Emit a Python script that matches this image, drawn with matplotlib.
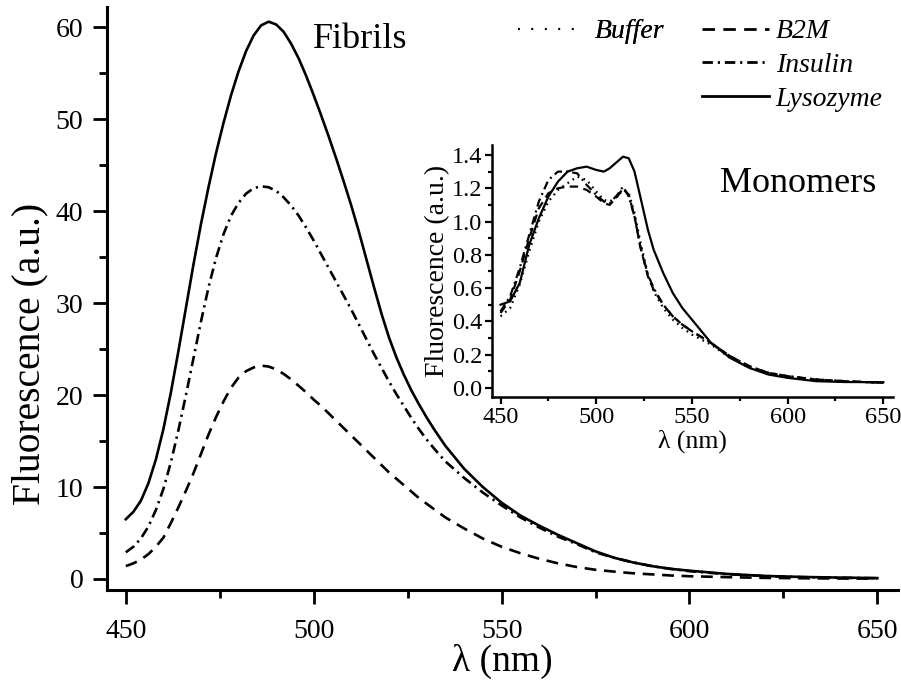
import matplotlib
matplotlib.use("Agg")
import matplotlib.pyplot as plt
from matplotlib.ticker import MultipleLocator, FormatStrFormatter
from matplotlib.lines import Line2D

plt.rcParams['font.family'] = ['Liberation Serif', 'DejaVu Serif']
plt.rcParams['lines.scale_dashes'] = False

# ---------------- Main panel (Fibrils) ----------------
wl_main = [450, 452, 454, 456, 458, 460, 462, 464, 466, 468,
           470, 472, 474, 476, 478, 480, 482, 484, 486, 488,
           490, 492, 494, 496, 498, 500, 502, 504, 506, 508,
           510, 512, 514, 516, 518, 520, 522, 524, 526, 528,
           530, 532,
           535, 540, 545, 550, 555, 560, 565, 570, 575, 580, 585, 590, 595, 600,
           610, 620, 630, 640, 650]
lysozyme_fib = [6.5, 7.3, 8.5, 10.4, 13.0, 16.3, 20.3, 24.8, 29.5, 34.2,
                38.6, 42.6, 46.3, 49.6, 52.6, 55.2, 57.4, 59.1, 60.2, 60.6,
                60.3, 59.5, 58.2, 56.6, 54.7, 52.6, 50.4, 48.1, 45.7, 43.2,
                40.6, 37.8, 34.8, 31.8, 28.9, 26.3, 24.1, 22.2, 20.5, 19.0,
                17.6, 16.3,
                14.5, 12.0, 10.0, 8.3, 6.9, 5.8, 4.8, 3.9, 3.0, 2.3, 1.8, 1.4, 1.1, 0.9,
                0.55, 0.33, 0.22, 0.15, 0.1]
insulin_fib = [2.9, 3.5, 4.4, 5.7, 7.5, 9.8, 12.7, 16.2, 20.0, 24.0,
               28.0, 31.7, 34.9, 37.5, 39.5, 40.9, 41.9, 42.5, 42.7, 42.6,
               42.2, 41.5, 40.6, 39.5, 38.2, 36.8, 35.3, 33.8, 32.3, 30.8,
               29.3, 27.7, 26.1, 24.5, 23.0, 21.5, 20.1, 18.8, 17.5, 16.3,
               15.2, 14.2,
               12.8, 11.0, 9.4, 8.0, 6.7, 5.6, 4.6, 3.8, 2.9, 2.3, 1.8, 1.4, 1.1, 0.85,
               0.52, 0.32, 0.2, 0.13, 0.08]
b2m_fib = [1.4, 1.7, 2.1, 2.7, 3.5, 4.5, 6.1, 7.8, 9.6, 11.5,
           13.6, 15.7, 17.6, 19.3, 20.8, 21.9, 22.6, 23.0, 23.2, 23.1,
           22.8, 22.3, 21.7, 21.0, 20.3, 19.5, 18.8, 18.0, 17.2, 16.4,
           15.6, 14.8, 14.0, 13.2, 12.4, 11.6, 10.9, 10.2, 9.5, 8.8,
           8.2, 7.6,
           6.7, 5.5, 4.4, 3.5, 2.8, 2.2, 1.7, 1.3, 1.0, 0.8, 0.62, 0.5, 0.38, 0.3,
           0.2, 0.12, 0.08, 0.05, 0.04]

# ---------------- Inset (Monomers) ----------------
wl_ins = [450, 455, 460, 465, 470, 475, 480, 485, 490, 495, 500, 504, 507, 511, 514, 517,
          520, 523, 527, 530, 535, 540, 545, 550, 560, 570, 580, 590, 600, 615, 630, 650]
lysozyme_mon = [0.50, 0.52, 0.63, 0.86, 1.02, 1.15, 1.24, 1.30, 1.32, 1.33, 1.31, 1.30, 1.32, 1.36, 1.39, 1.38,
                1.30, 1.15, 0.95, 0.83, 0.69, 0.57, 0.48, 0.41, 0.27, 0.18, 0.12, 0.08, 0.06, 0.04, 0.035, 0.034]
insulin_mon = [0.46, 0.55, 0.72, 0.92, 1.12, 1.25, 1.30, 1.30, 1.29, 1.22, 1.16, 1.12, 1.11, 1.16, 1.21, 1.15,
               1.03, 0.85, 0.68, 0.60, 0.50, 0.43, 0.38, 0.34, 0.27, 0.19, 0.13, 0.09, 0.07, 0.05, 0.04, 0.03]
b2m_mon = [0.45, 0.53, 0.70, 0.90, 1.08, 1.17, 1.20, 1.21, 1.21, 1.19, 1.15, 1.11, 1.10, 1.15, 1.20, 1.16,
           1.03, 0.85, 0.67, 0.59, 0.50, 0.43, 0.38, 0.34, 0.27, 0.19, 0.13, 0.09, 0.07, 0.05, 0.04, 0.03]
buffer_mon = [0.43, 0.48, 0.62, 0.82, 1.00, 1.12, 1.19, 1.23, 1.27, 1.25, 1.18, 1.13, 1.12, 1.15, 1.19, 1.17,
              1.05, 0.88, 0.68, 0.58, 0.48, 0.41, 0.36, 0.32, 0.26, 0.18, 0.12, 0.09, 0.07, 0.05, 0.04, 0.03]

labels = ['Buffer', 'B2M', 'Insulin', 'Lysozyme']

DOT = (0, (1.2, 3.2))
DASH = (0, (8.5, 5.5))
DASHDOT = (0, (7.5, 3.5, 1.6, 3.5))
SOLID = '-'

fig = plt.figure(figsize=(9.01, 6.84), dpi=100)
ax = fig.add_axes([0.1188, 0.1374, 0.8779, 0.8524])

lw_main = 1.9
ax.plot(wl_main, b2m_fib, color='black', lw=lw_main, linestyle=DASH)
ax.plot(wl_main, insulin_fib, color='black', lw=lw_main, linestyle=DASHDOT)
ax.plot(wl_main, lysozyme_fib, color='black', lw=lw_main, linestyle=SOLID)

ax.set_xlim(445, 655.5)
ax.set_ylim(-1.2, 62.2)
for s in ['top', 'right']:
    ax.spines[s].set_visible(False)
for s in ['left', 'bottom']:
    ax.spines[s].set_linewidth(2.2)
ax.xaxis.set_major_locator(MultipleLocator(50))
ax.xaxis.set_minor_locator(MultipleLocator(25))
ax.yaxis.set_major_locator(MultipleLocator(10))
ax.yaxis.set_minor_locator(MultipleLocator(5))
ax.tick_params(which='major', direction='out', length=10, width=2.0, labelsize=20)
ax.tick_params(axis='x', which='major', pad=11)
ax.tick_params(axis='y', which='major', pad=7)
ax.tick_params(which='minor', direction='out', length=5.5, width=2.0)
ax.set_xlabel('λ (nm)', fontsize=27, labelpad=0)
ax.set_ylabel('Fluorescence (a.u.)', fontsize=28.5)
ax.yaxis.set_label_coords(-0.0745, 0.405)
fig.text(313 / 901, 1 - 48 / 684, 'Fibrils', fontsize=26, va='baseline', ha='left')

# legend
h_buf = Line2D([], [], color='black', lw=1.5, linestyle=(0, (1.2, 8.5)))
h_b2m = Line2D([], [], color='black', lw=2.0, linestyle=(0, (9, 6)))
h_ins = Line2D([], [], color='black', lw=2.0, linestyle=DASHDOT)
h_lys = Line2D([], [], color='black', lw=2.0, linestyle=SOLID)
leg_prop = {'style': 'italic', 'size': 20}
leg1 = fig.legend([h_buf], [labels[0]], loc='upper left', bbox_to_anchor=(518 / 901, 1 - 19 / 684),
                  frameon=False, prop=leg_prop, handlelength=2.35,
                  handletextpad=0.4, borderpad=0, borderaxespad=0)
fig.add_artist(leg1)
leg2 = fig.legend([h_b2m, h_ins, h_lys], labels[1:], loc='upper left',
                  bbox_to_anchor=(702 / 901, 1 - 19 / 684), frameon=False,
                  prop=leg_prop, handlelength=2.4, handletextpad=0.25,
                  labelspacing=0.3, borderpad=0, borderaxespad=0)

# ---------------- inset ----------------
ax2 = fig.add_axes([0.546, 0.4196, 0.445, 0.3684])
lw_in = 1.6
ax2.plot(wl_ins, buffer_mon, color='black', lw=lw_in, linestyle=DOT)
ax2.plot(wl_ins, b2m_mon, color='black', lw=lw_in, linestyle=(0, (6, 4)))
ax2.plot(wl_ins, insulin_mon, color='black', lw=lw_in, linestyle=(0, (6, 3, 1.4, 3)))
ax2.plot(wl_ins, lysozyme_mon, color='black', lw=lw_in, linestyle=SOLID)
ax2.set_xlim(445.5, 655)
ax2.set_ylim(-0.055, 1.46)
for s in ['top', 'right']:
    ax2.spines[s].set_visible(False)
for s in ['left', 'bottom']:
    ax2.spines[s].set_linewidth(1.8)
ax2.xaxis.set_major_locator(MultipleLocator(50))
ax2.xaxis.set_minor_locator(MultipleLocator(25))
ax2.yaxis.set_major_locator(MultipleLocator(0.2))
ax2.yaxis.set_minor_locator(MultipleLocator(0.1))
ax2.yaxis.set_major_formatter(FormatStrFormatter('%.1f'))
ax2.tick_params(which='major', direction='out', length=5, width=1.6, labelsize=17.5, pad=2)
ax2.tick_params(which='minor', direction='out', length=3, width=1.6)
ax2.set_xlabel('λ (nm)', fontsize=18.5, labelpad=1)
ax2.set_ylabel('Fluorescence (a.u.)', fontsize=20, labelpad=1)
fig.text(720 / 901, 1 - 192 / 684, 'Monomers', fontsize=26, va='baseline', ha='left')

fig.savefig('out.png', dpi=100)
